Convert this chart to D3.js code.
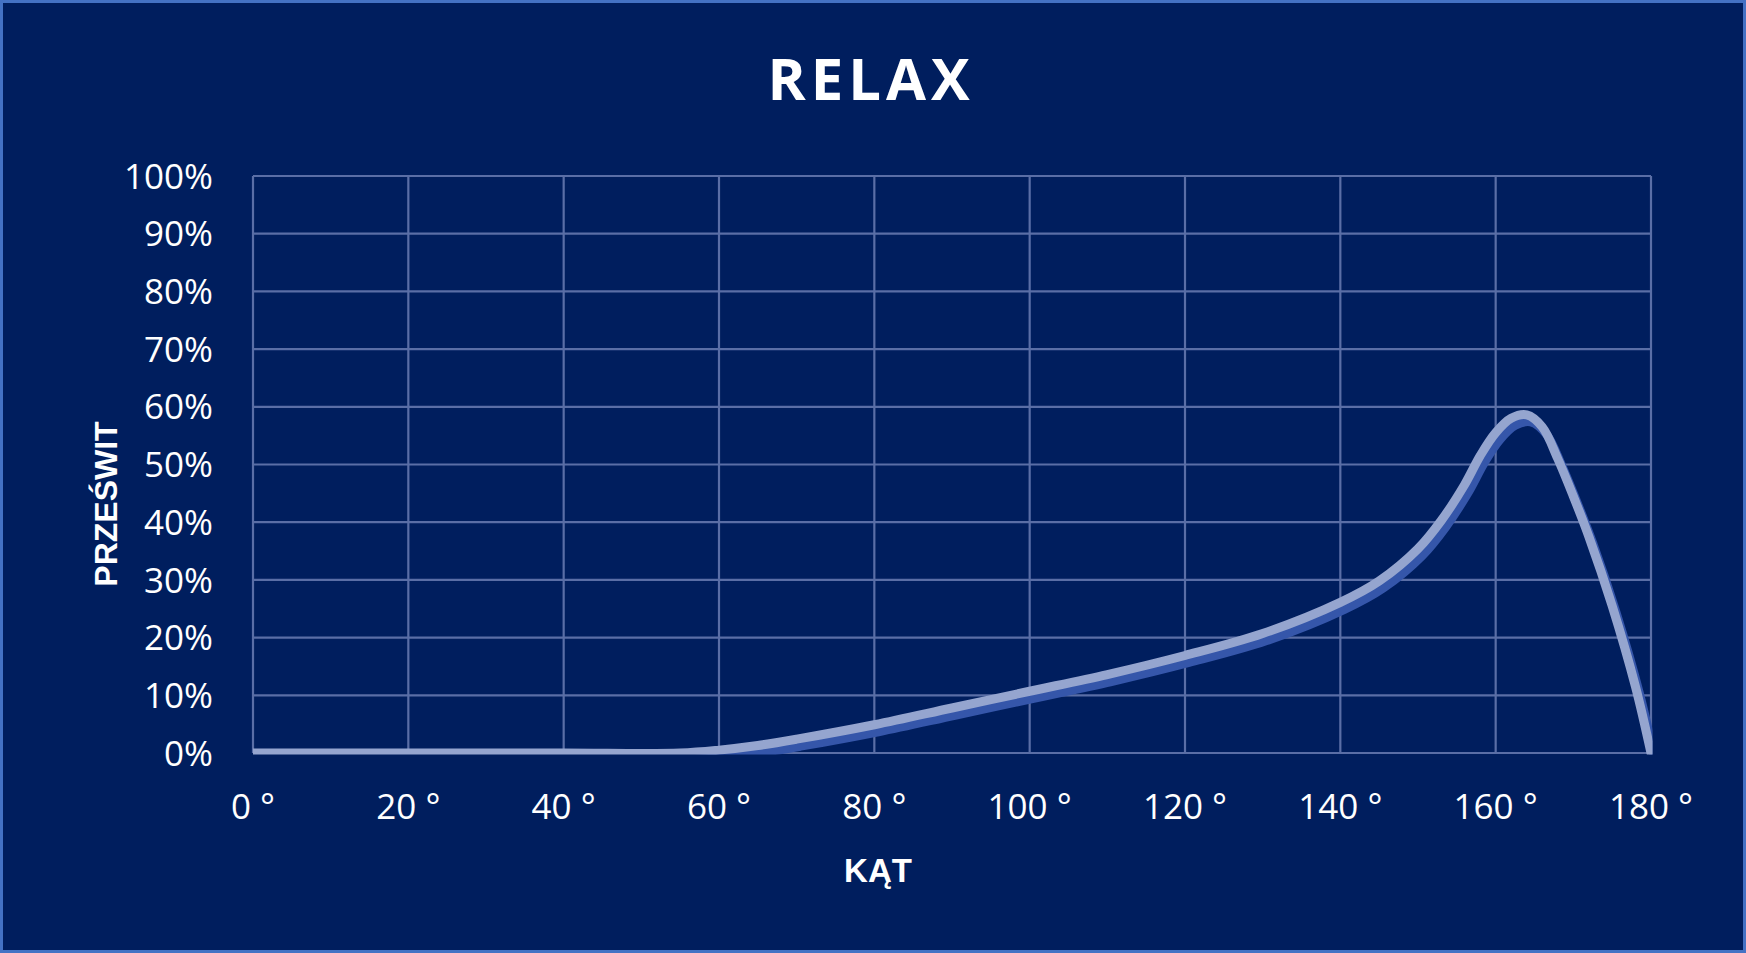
<!DOCTYPE html>
<html>
<head>
<meta charset="utf-8">
<script src="https://cdn.jsdelivr.net/npm/d3@7"></script>
<style>
  html, body { margin: 0; padding: 0; background: #001e5e; overflow: hidden; }
  #my_dataviz { width: 1746px; height: 953px; }
</style>
</head>
<body>
<div id="my_dataviz"></div>
<script>
// chart values
var chartTitle = "RELAX";
var xTitle = "KĄT";
var yTitle = "PRZEŚWIT";
var xTicks = [0, 20, 40, 60, 80, 100, 120, 140, 160, 180];
var yTicks = [0, 0.1, 0.2, 0.3, 0.4, 0.5, 0.6, 0.7, 0.8, 0.9, 1];
var angles = [0, 20, 40, 55, 60, 65, 70, 80, 90, 100, 110, 120, 130, 140, 145, 150, 153, 156, 158, 160, 162, 164, 166, 168, 170, 172, 175, 178, 180];
var clearance = [0, 0, 0, 0, 0.005, 0.013, 0.024, 0.049, 0.078, 0.107, 0.136, 0.169, 0.207, 0.261, 0.298, 0.354, 0.403, 0.465, 0.515, 0.555, 0.580, 0.586, 0.565, 0.510, 0.445, 0.375, 0.255, 0.115, 0];

var width = 1746,
    height = 953;

var svg = d3.select("#my_dataviz")
  .append("svg")
  .attr("width", width)
  .attr("height", height);

// background + border
svg.append("rect")
  .attr("x", 1.5).attr("y", 1.5)
  .attr("width", width - 3).attr("height", height - 3)
  .attr("fill", "#001e5e")
  .attr("stroke", "#4472c4")
  .attr("stroke-width", 3);

var x = d3.scaleLinear()
  .domain([0, 180])
  .range([253, 1651]);

var y = d3.scaleLinear()
  .domain([0, 1])
  .range([753, 176]);

// plot area clip, the series gets cut at the axes like in the original
svg.append("clipPath")
  .attr("id", "plotclip")
  .append("rect")
    .attr("x", x(0))
    .attr("y", y(1))
    .attr("width", x(180) - x(0) + 1.5)
    .attr("height", y(0) - y(1) + 1.5);

// grid
svg.append("g")
  .selectAll("line")
  .data(xTicks)
  .enter()
  .append("line")
    .attr("x1", function(d){ return x(d); })
    .attr("x2", function(d){ return x(d); })
    .attr("y1", y(0))
    .attr("y2", y(1))
    .attr("stroke", "#5a6ea6")
    .attr("stroke-width", 2.2);

svg.append("g")
  .selectAll("line")
  .data(yTicks)
  .enter()
  .append("line")
    .attr("x1", x(0))
    .attr("x2", x(180))
    .attr("y1", function(d){ return y(d); })
    .attr("y2", function(d){ return y(d); })
    .attr("stroke", "#5a6ea6")
    .attr("stroke-width", 2.2);

// tick labels
var pct = d3.format(".0%");
svg.append("g")
  .selectAll("text")
  .data(yTicks)
  .enter()
  .append("text")
    .attr("x", 213)
    .attr("y", function(d){ return y(d); })
    .attr("dy", "0.36em")
    .attr("text-anchor", "end")
    .attr("fill", "#ffffff")
    .style("font", "35px 'Open Sans'")
    .text(function(d){ return pct(d); });

svg.append("g")
  .selectAll("text")
  .data(xTicks)
  .enter()
  .append("text")
    .attr("x", function(d){ return x(d); })
    .attr("y", 819)
    .attr("text-anchor", "middle")
    .attr("fill", "#ffffff")
    .style("font", "35px 'Open Sans'")
    .text(function(d){ return d + " °"; });

// the curve: blue shadow under a pale line
var line = d3.line()
  .curve(d3.curveCatmullRom.alpha(0.5))
  .x(function(d){ return x(d[0]); })
  .y(function(d){ return y(d[1]); });

var pts = d3.zip(angles, clearance);

var series = svg.append("g")
  .attr("clip-path", "url(#plotclip)");

series.append("path")
  .datum(pts)
  .attr("transform", "translate(4,7)")
  .attr("fill", "none")
  .attr("stroke", "#3556aa")
  .attr("stroke-width", 9)
  .attr("stroke-linejoin", "round")
  .attr("d", line);

series.append("path")
  .datum(pts)
  .attr("fill", "none")
  .attr("stroke", "#95a5cf")
  .attr("stroke-width", 9)
  .attr("stroke-linejoin", "round")
  .attr("stroke-linecap", "round")
  .attr("d", line);

// titles
svg.append("text")
  .attr("x", 871)
  .attr("y", 100)
  .attr("text-anchor", "middle")
  .attr("fill", "#ffffff")
  .style("font", "bold 58px 'Open Sans'")
  .style("letter-spacing", "5px")
  .text(chartTitle);

svg.append("text")
  .attr("x", 878)
  .attr("y", 882)
  .attr("text-anchor", "middle")
  .attr("fill", "#ffffff")
  .style("font", "bold 33px 'Liberation Sans'")
  .text(xTitle);

svg.append("text")
  .attr("transform", "translate(117,504) rotate(-90)")
  .attr("text-anchor", "middle")
  .attr("fill", "#ffffff")
  .style("font", "bold 32px 'Liberation Sans'")
  .text(yTitle);
</script>
</body>
</html>
